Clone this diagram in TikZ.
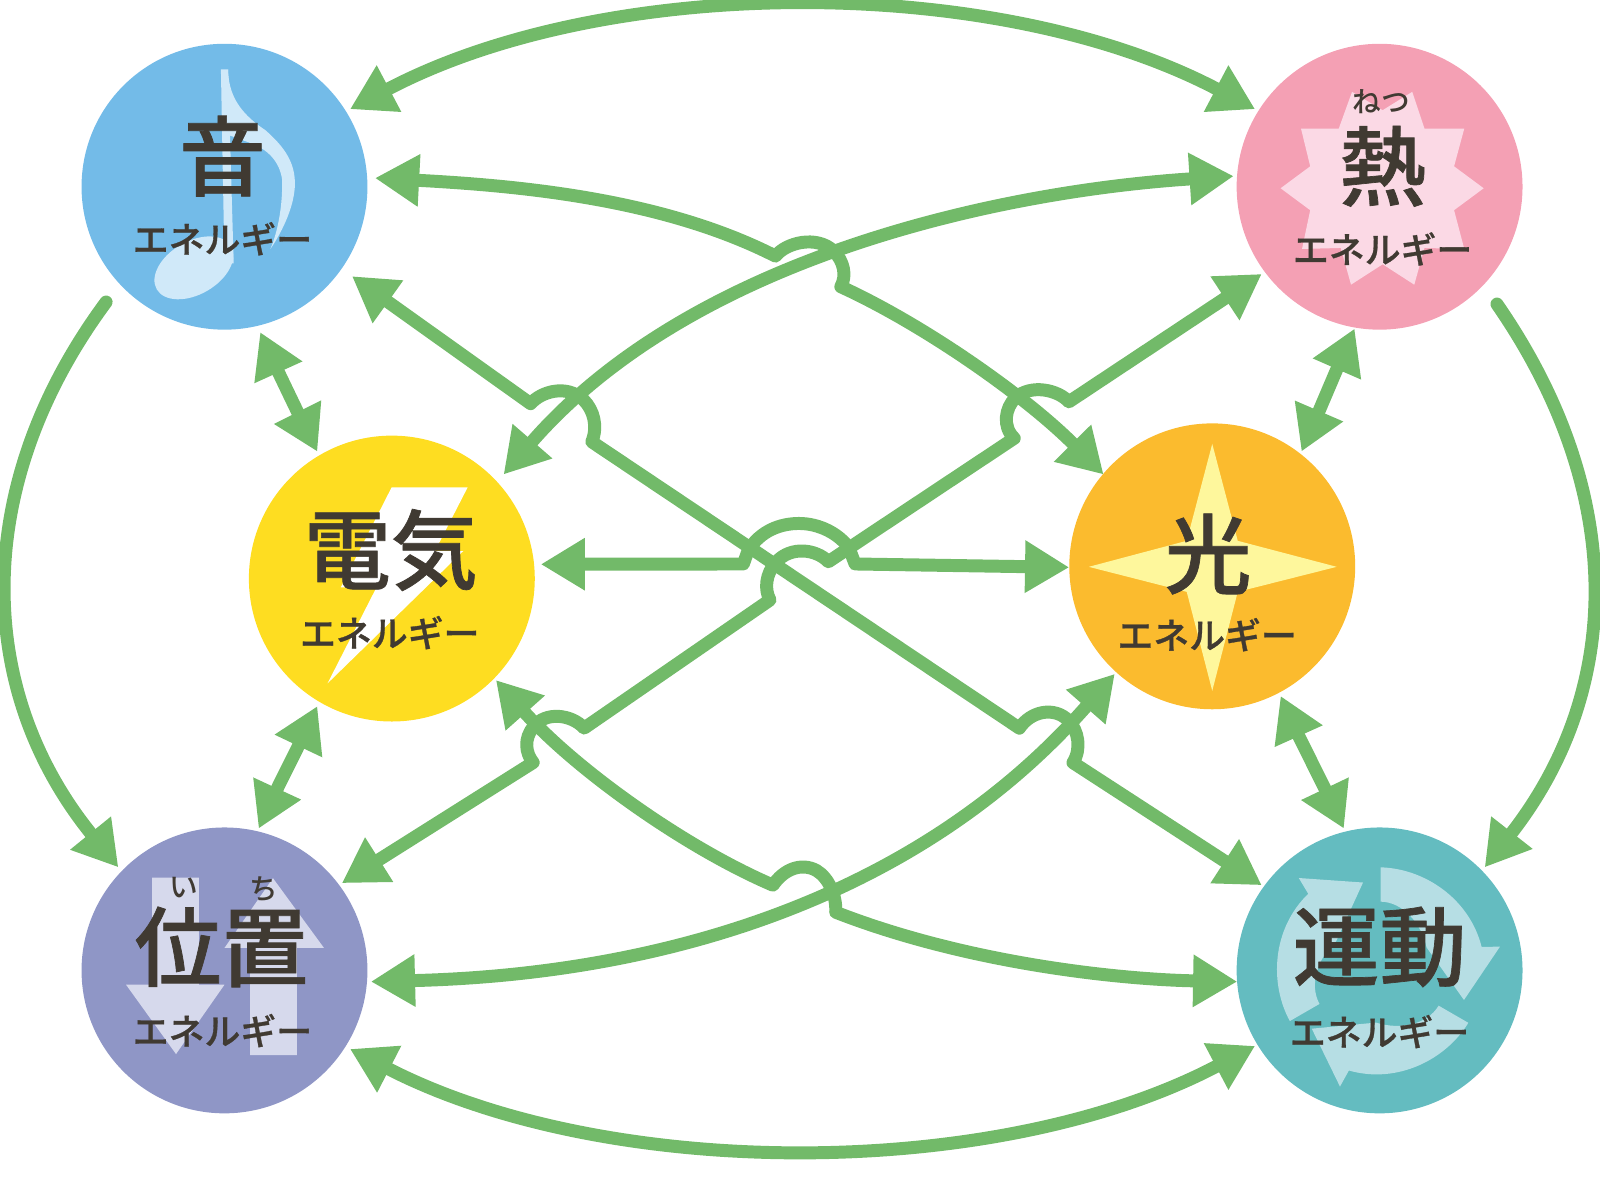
\documentclass[tikz,border=0pt]{standalone}
\usepackage{fontspec}
\setmainfont{Noto Sans CJK JP Medium}
\newfontfamily\jpheavy[FakeBold=0.8]{Noto Sans CJK JP Medium}
\usetikzlibrary{arrows.meta,calc}
\definecolor{conn}{HTML}{72BA69}
\definecolor{ink}{HTML}{403A32}
\definecolor{cblue}{HTML}{73BBE8}
\definecolor{cpink}{HTML}{F4A0B4}
\definecolor{cyellow}{HTML}{FEDD21}
\definecolor{corange}{HTML}{FBBB2E}
\definecolor{cpurple}{HTML}{8F96C6}
\definecolor{cteal}{HTML}{64BCC0}
\definecolor{iblue}{HTML}{D0E9F9}
\definecolor{ipink}{HTML}{FBD9E5}
\definecolor{iyellow}{HTML}{FEF79C}
\definecolor{ipurple}{HTML}{D6D9EC}
\definecolor{iteal}{HTML}{B6DEE4}
\tikzset{
  disc/.style={circle,minimum size=2.8cm,inner sep=0pt,outer sep=0pt},
  kanji/.style={text=ink,inner sep=0pt,font=\jpheavy\fontsize{24.2}{26}\selectfont},
  kata/.style={text=ink,inner sep=0pt,font=\jpheavy\fontsize{10}{11}\selectfont},
  ruby/.style={text=ink,inner sep=0pt,font=\fontsize{8}{9}\selectfont},
  tip/.tip={Triangle[length=12.3pt,width=13.8pt]},
  conline/.style={draw=conn,line width=.127cm,line join=round},
  two/.style={conline,{tip}-{tip}},
  one/.style={conline,line cap=round,-{tip}},
}
\begin{document}
\begin{tikzpicture}[x=0.01cm,y=-0.01cm]
\useasboundingbox (0,0) rectangle (1568,1176);
% discs
\node[disc,fill=cblue]   (oto)    at (220,183) {};
\node[disc,fill=cpink]   (netsu)  at (1352,183) {};
\node[disc,fill=cyellow] (denki)  at (384,567) {};
\node[disc,fill=corange] (hikari) at (1188,555) {};
\node[disc,fill=cpurple] (ichi)   at (220,951) {};
\node[disc,fill=cteal]   (undo)   at (1352,951) {};
% icons
\fill[iblue] (216.5,68) -- (223.5,68) -- (229,258) -- (220,258) -- cycle;
\fill[iblue,rotate around={30:(190,262.5)}] (190,262.5) ellipse [x radius=.42cm,y radius=.26cm];
\fill[iblue] (223.5,68) .. controls (224,90) and (232,109) .. (260,127.5) .. controls (280,145) and (289,160) .. (289,180) .. controls (289,200) and (278,225) .. (265,244) .. controls (273,225) and (277,200) .. (276.5,176) .. controls (274,158) and (262,146) .. (245,140) -- (223,132) -- cycle;
\fill[white] (383.8,477.6) -- (458.3,477.6) -- (426.3,540) -- (454,540) -- (321,669.7) -- (369,575.6) -- (334,575.6) -- cycle;
\fill[ipink] (1325,90) -- (1355,108) -- (1384,90) -- (1396,126) -- (1435,126) -- (1425,163) -- (1454,184.5) -- (1425,206) -- (1435,244) -- (1396,243) -- (1386,279) -- (1355,259) -- (1324,279) -- (1314,243) -- (1276,244) -- (1284,206) -- (1255,184.5) -- (1284,163) -- (1275,126) -- (1312,126) -- cycle;
\fill[iyellow] (1188,435) -- (1213,530) -- (1310,555.5) -- (1213,580) -- (1188,677) -- (1163,580) -- (1067,555.5) -- (1163,530) -- cycle;
\fill[ipurple] (149,860) -- (195,860) -- (195,965) -- (220,965) -- (172.5,1033) -- (123.5,965) -- (149,965) -- cycle;
\fill[ipurple] (245,1034) -- (291,1034) -- (291,929) -- (317.5,929) -- (267.5,860.6) -- (220,929) -- (245,929) -- cycle;
\foreach \a in {0,-120,-240}{
  \fill[iteal,rotate around={\a:(1352,951)}] (1353,850) .. controls (1395,851) and (1440,880) .. (1452,928) -- (1470,927.7) -- (1434.7,980) -- (1398,928.4) .. controls (1393,905) and (1375,884) .. (1353,883.6) -- cycle;
}
% text
\node[kanji] (t1) at (218,153) {音};
\node[kanji] (t2) at (1355,163) {熱};
\node[kanji] (t3) at (383,539) {電気};
\node[kanji] (t4) at (1184,543) {光};
\node[kanji] (t5) at (217,928) {位置};
\node[kanji] (t6) at (1352,928) {運動};
\node[kata] (k1) at (218,234) {エネルギー};
\node[kata] (k2) at (1355,244) {エネルギー};
\node[kata] (k3) at (382,620) {エネルギー};
\node[kata] (k4) at (1183,622) {エネルギー};
\node[kata] (k5) at (218,1010) {エネルギー};
\node[kata] (k6) at (1352,1011) {エネルギー};
\node[ruby] (r1) at (1354,100) {ねつ};
\node[ruby] (r2) at (180,870) {い};
\node[ruby] (r3) at (259,871) {ち};
% connector ends, taken from the discs
\coordinate (oT) at ($(oto)+(123,-76)$);
\coordinate (oA) at ($(oto)+(147.5,-8.5)$);
\coordinate (oB) at ($(oto)+(125,87.7)$);
\coordinate (oL) at ($(oto)+(-116,113)$);
\coordinate (oS) at ($(oto)+(35,142.5)$);
\coordinate (nT) at ($(netsu)+(-122,-76)$);
\coordinate (nE) at ($(netsu)+(-143,-10.4)$);
\coordinate (nD) at ($(netsu)+(-115.5,85.5)$);
\coordinate (nR) at ($(netsu)+(115,115)$);
\coordinate (nS) at ($(netsu)+(-24.5,139)$);
\coordinate (dS) at ($(denki)+(-73,-124.4)$);
\coordinate (dE) at ($(denki)+(109.5,-102)$);
\coordinate (dC) at ($(denki)+(146,-14)$);
\coordinate (dG) at ($(denki)+(102,99.5)$);
\coordinate (dT) at ($(denki)+(-73,125)$);
\coordinate (hA) at ($(hikari)+(-106.5,-90)$);
\coordinate (hS) at ($(hikari)+(87.5,-112.5)$);
\coordinate (hC) at ($(hikari)+(-140.2,1)$);
\coordinate (hF) at ($(hikari)+(-95.5,105.4)$);
\coordinate (hT) at ($(hikari)+(67,127)$);
\coordinate (iL) at ($(ichi)+(-104,-101)$);
\coordinate (iS) at ($(ichi)+(33.5,-139)$);
\coordinate (iD) at ($(ichi)+(115,-85.5)$);
\coordinate (iF) at ($(ichi)+(143.5,11)$);
\coordinate (iB) at ($(ichi)+(123,77)$);
\coordinate (uR) at ($(undo)+(103,-101)$);
\coordinate (uS) at ($(undo)+(-35,-139)$);
\coordinate (uB) at ($(undo)+(-115.5,-83.5)$);
\coordinate (uG) at ($(undo)+(-139.5,11)$);
\coordinate (uT) at ($(undo)+(-122,74)$);
% outer arcs
\path[two] (oT) .. controls (595,-26) and (978,-26) .. (nT);
\path[two] (iB) .. controls (595,1158) and (978,1158) .. (uT);
\path[one] (oL) .. controls (-27,473) and (-27,674) .. (iL);
\path[one] (nR) .. controls (1593,480) and (1593,674) .. (uR);
% short links
\path[two] (oS) .. controls (272,363) and (291,402.6) .. (dS);
\path[two] (dT) .. controls (292,732) and (272,772) .. (iS);
\path[two] (nS) .. controls (1310,362) and (1293,402) .. (hS);
\path[two] (hT) .. controls (1273,722) and (1298,772) .. (uS);
% long links
\path[two] (dE) .. controls (680,250) and (985,187) .. (nE);
\path[two] (iF) .. controls (650,955) and (900,880) .. (hF);
\path[two] (oA) .. controls (510,182) and (650,195) .. (760,251)
  .. controls (770,238) and (800,230) .. (817,246)
  .. controls (827,256) and (830,270) .. (824,281)
  .. controls (905,318) and (1005,388) .. (hA);
\path[two] (oB) -- (520,395.6)
  .. controls (530,384) and (555,376) .. (572,392)
  .. controls (582,402) and (586,418) .. (580,433)
  -- (999,713.6)
  .. controls (1010,697) and (1033,692) .. (1047,706)
  .. controls (1057,716) and (1060,734) .. (1051.5,747.4)
  -- (uB);
\path[two] (dC) -- (728.5,552.7) -- (733,540)
  .. controls (745,520) and (765,513) .. (783,513)
  .. controls (803,513) and (822,523) .. (832,537)
  -- (838,552.7) -- (hC);
\path[two] (nD) -- (1047.5,393.8)
  .. controls (1037,382) and (1010,376) .. (995,390)
  .. controls (985,400) and (982,418) .. (994,429.5)
  -- (811.8,550.5)
  .. controls (800,538) and (775,535) .. (761,550.5)
  .. controls (750,562) and (749,578) .. (754.6,588)
  -- (572.5,713.5)
  .. controls (560,700) and (535,697) .. (523,712)
  .. controls (513,724) and (515,738) .. (522.5,747.3)
  -- (iD);
\path[two] (uG) .. controls (1100,960) and (950,945) .. (819,894)
  .. controls (820,878) and (812,860) .. (800,853)
  .. controls (785,845) and (768,852) .. (757.5,867.5)
  .. controls (670,830) and (563,753) .. (dG);
\end{tikzpicture}
\end{document}
